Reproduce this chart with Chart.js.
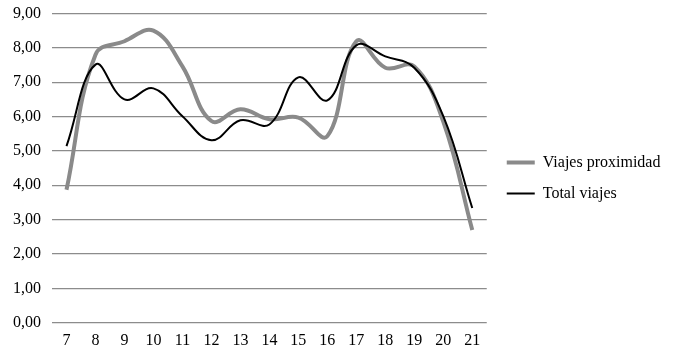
<!DOCTYPE html>
<html>
<head>
<meta charset="utf-8">
<script src="https://cdn.jsdelivr.net/npm/chart.js@4/dist/chart.umd.min.js"></script>
<style>
    html, body { margin: 0; padding: 0; background: #fff; }
    #wrap { width: 679px; height: 356px; position: relative; }
</style>
</head>
<body>
<div id="wrap"><canvas id="chart"></canvas></div>
<script>
// --- Daten ---
const horas = ["7", "8", "9", "10", "11", "12", "13", "14", "15", "16", "17", "18", "19", "20", "21"];
const viajesProximidad = [3.87, 7.80, 8.19, 8.50, 7.46, 5.87, 6.21, 5.92, 5.97, 5.43, 8.19, 7.42, 7.46, 5.85, 2.70];
const totalViajes = [5.14, 7.51, 6.50, 6.82, 6.01, 5.31, 5.89, 5.77, 7.14, 6.47, 8.07, 7.75, 7.42, 6.01, 3.34];
const yTicks = [0, 1, 2, 3, 4, 5, 6, 7, 8, 9];

const fuente = "'Liberation Serif', 'DejaVu Serif', serif";

// Leyenda etwas breiter machen und Einträge leicht verschieben
const legendTweak = {
    id: 'legendTweak',
    afterInit(chart) {
        const legend = chart.legend;
        const fit = legend.fit;
        legend.fit = function () {
            fit.call(this);
            this.width += 11;
        };
        const draw = legend.draw;
        legend.draw = function () {
            const c = this.ctx;
            c.save();
            c.translate(5, 3);
            draw.call(this);
            c.restore();
        };
    }
};

const ctx = document.getElementById('chart').getContext('2d');
const chart = new Chart(ctx, {
    type: 'line',
    data: {
        labels: horas,
        datasets: [{
            label: 'Viajes proximidad',
            data: viajesProximidad,
            borderColor: '#8a8a8a',
            backgroundColor: '#8a8a8a',
            borderWidth: 4,
            pointRadius: 0,
            pointStyle: 'line',
            tension: 0.4,
            order: 1
        }, {
            label: 'Total viajes',
            data: totalViajes,
            borderColor: '#000000',
            backgroundColor: '#000000',
            borderWidth: 2,
            pointRadius: 0,
            pointStyle: 'line',
            tension: 0.4,
            order: 0
        }]
    },
    options: {
        responsive: true,
        maintainAspectRatio: false,
        animation: false,
        layout: { padding: { top: 0, right: 16, bottom: 6, left: 2 } },
        plugins: {
            tooltip: { enabled: false },
            legend: {
                position: 'right',
                labels: {
                    usePointStyle: true,
                    pointStyleWidth: 28,
                    padding: 15,
                    color: '#000',
                    font: { family: fuente, size: 16 },
                    sort: (a, b) => a.datasetIndex - b.datasetIndex
                }
            }
        },
        scales: {
            x: {
                offset: true,
                grid: { display: false },
                border: { display: false },
                ticks: {
                    color: '#000',
                    padding: 0,
                    maxRotation: 0,
                    autoSkip: false,
                    font: { family: fuente, size: 16 }
                }
            },
            y: {
                min: 0,
                max: 9,
                afterBuildTicks: (axis) => {
                    axis.ticks = yTicks.map(v => ({ value: v }));
                },
                grid: { color: '#8c8c8c', lineWidth: 1.3, drawTicks: false },
                border: { display: false },
                ticks: {
                    color: '#000',
                    padding: 11,
                    font: { family: fuente, size: 16, lineHeight: 0.3 },
                    callback: (v) => v.toFixed(2).replace('.', ',')
                }
            }
        }
    },
    plugins: [legendTweak]
});
</script>
</body>
</html>
